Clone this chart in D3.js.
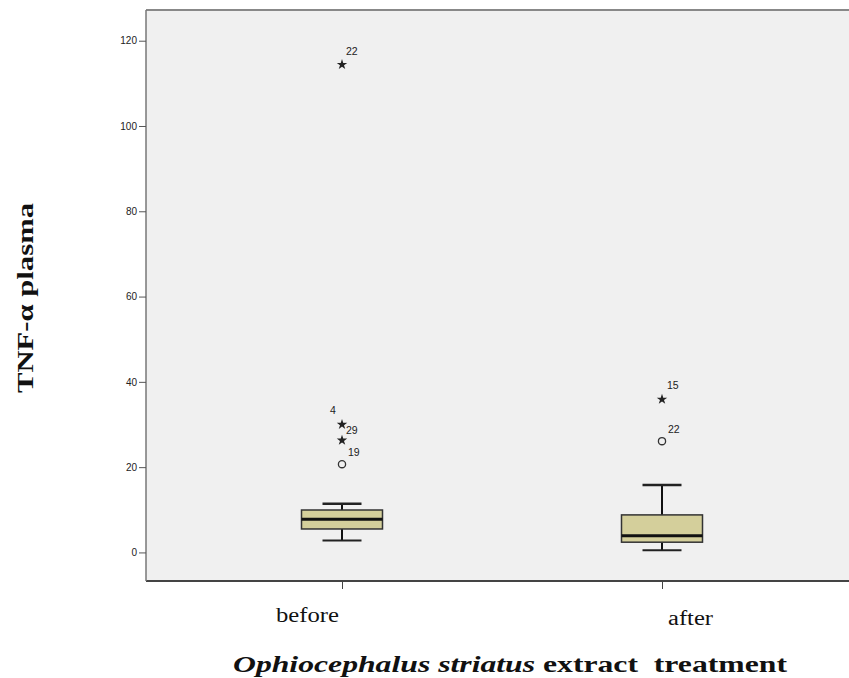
<!DOCTYPE html>
<html><head><meta charset="utf-8">
<script src="https://cdn.jsdelivr.net/npm/d3@7"></script>
<style>body{margin:0;background:#fff}svg{display:block}</style>
</head><body>
<svg id="c" width="849" height="678"></svg>
<script>
const categories = ["before", "after"];
const whiskerLow = [2.8, 0.5];
const q1 = [5.5, 2.4];
const median = [7.8, 3.9];
const q3 = [9.95, 8.8];
const whiskerHigh = [11.4, 15.8];
// outliers: category, value, marker type, case label
const outlierCat = ["before", "before", "before", "before", "after", "after"];
const outlierVal = [114.4, 30.0, 26.3, 20.7, 35.9, 26.1];
const outlierType = ["star", "star", "star", "circle", "star", "circle"];
const outlierLabel = ["22", "4", "29", "19", "15", "22"];
const yTicks = [0, 20, 40, 60, 80, 100, 120];

const svg = d3.select("#c");
const L = 146, R = 849, T = 10, B = 581;
const y = d3.scaleLinear().domain([-6.7, 127.2]).range([B, T]);
const x = d3.scalePoint().domain(categories).range([342, 662]);

svg.append("rect").attr("x", L).attr("y", T).attr("width", R - L).attr("height", B - T)
  .attr("fill", "#f0f0f0");
svg.append("line").attr("x1", L).attr("x2", R).attr("y1", T).attr("y2", T).attr("stroke", "#888").attr("stroke-width", 2);
svg.append("line").attr("x1", L).attr("x2", R).attr("y1", B).attr("y2", B).attr("stroke", "#444").attr("stroke-width", 2);
svg.append("line").attr("x1", L).attr("x2", L).attr("y1", T).attr("y2", B).attr("stroke", "#777").attr("stroke-width", 1.5);

// y axis
const ya = svg.append("g").attr("transform", `translate(${L},0)`)
  .call(d3.axisLeft(y).tickValues(yTicks).tickSize(7).tickSizeOuter(0).tickPadding(2));
ya.select(".domain").remove();
ya.selectAll(".tick line").attr("stroke", "#555");
ya.selectAll(".tick text").attr("font-family", "Liberation Sans, Arial, sans-serif").attr("font-size", 10).attr("fill", "#222");

// x axis ticks
const xa = svg.append("g").attr("transform", `translate(0,${B})`)
  .call(d3.axisBottom(x).tickSize(8).tickSizeOuter(0).tickFormat(""));
xa.select(".domain").remove();
xa.selectAll(".tick line").attr("stroke", "#444");

const bw = 81, cw = 39;
categories.forEach((c, i) => {
  const cx = x(c);
  const g = svg.append("g");
  g.append("line").attr("x1", cx).attr("x2", cx).attr("y1", y(whiskerHigh[i])).attr("y2", y(q3[i])).attr("stroke", "#111").attr("stroke-width", 2);
  g.append("line").attr("x1", cx).attr("x2", cx).attr("y1", y(q1[i])).attr("y2", y(whiskerLow[i])).attr("stroke", "#111").attr("stroke-width", 2);
  g.append("line").attr("x1", cx - cw/2).attr("x2", cx + cw/2).attr("y1", y(whiskerHigh[i])).attr("y2", y(whiskerHigh[i])).attr("stroke", "#222").attr("stroke-width", 2.5);
  g.append("line").attr("x1", cx - cw/2).attr("x2", cx + cw/2).attr("y1", y(whiskerLow[i])).attr("y2", y(whiskerLow[i])).attr("stroke", "#222").attr("stroke-width", 2);
  g.append("rect").attr("x", cx - bw/2).attr("y", y(q3[i])).attr("width", bw).attr("height", y(q1[i]) - y(q3[i]))
    .attr("fill", "#d4cf9b").attr("stroke", "#333").attr("stroke-width", 1.5);
  g.append("line").attr("x1", cx - bw/2).attr("x2", cx + bw/2).attr("y1", y(median[i])).attr("y2", y(median[i])).attr("stroke", "#111").attr("stroke-width", 3);
});

const labelOffsets = {"before-22": [4, -14], "before-4": [-12, -14], "before-29": [4, -10], "before-19": [6, -12], "after-15": [5, -14], "after-22": [6, -12]};
outlierVal.forEach((v, i) => {
  const cx = x(outlierCat[i]), cy = y(v);
  if (outlierType[i] === "star") {
    svg.append("path").attr("d", d3.symbol(d3.symbolStar, 34)()).attr("transform", `translate(${cx},${cy})`).attr("fill", "#222");
  } else {
    svg.append("circle").attr("cx", cx).attr("cy", cy).attr("r", 3.6).attr("fill", "none").attr("stroke", "#333").attr("stroke-width", 1.3);
  }
  const off = labelOffsets[outlierCat[i] + "-" + outlierLabel[i]];
  svg.append("text").attr("x", cx + off[0]).attr("y", cy + off[1] + 4).text(outlierLabel[i])
    .attr("font-family", "Liberation Sans, Arial, sans-serif").attr("font-size", 10.5).attr("fill", "#222");
});

// category labels
const catPos = [[276, 622, 63], [668, 625, 45]];
categories.forEach((c, i) => {
  svg.append("text").attr("x", catPos[i][0]).attr("y", catPos[i][1])
    .attr("textLength", catPos[i][2]).attr("lengthAdjust", "spacingAndGlyphs")
    .attr("font-family", "Liberation Serif, Times New Roman, serif").attr("font-size", 20).attr("fill", "#111").text(c);
});

// x title
const t = svg.append("text").attr("x", 233).attr("y", 672)
  .attr("textLength", 554).attr("lengthAdjust", "spacingAndGlyphs")
  .attr("font-family", "Liberation Serif, Times New Roman, serif").attr("font-size", 24).attr("font-weight", "bold").attr("fill", "#111");
t.append("tspan").attr("font-style", "italic").text("Ophiocephalus striatus");
t.append("tspan").text(" extract\u00a0 treatment");

// y title
svg.append("text").attr("transform", "translate(33,298) rotate(-90)").attr("text-anchor", "middle")
  .attr("textLength", 190).attr("lengthAdjust", "spacingAndGlyphs")
  .attr("font-family", "Liberation Serif, Times New Roman, serif").attr("font-size", 24).attr("font-weight", "bold").attr("fill", "#111")
  .text("TNF-\u03b1 plasma");
</script>
</body></html>
